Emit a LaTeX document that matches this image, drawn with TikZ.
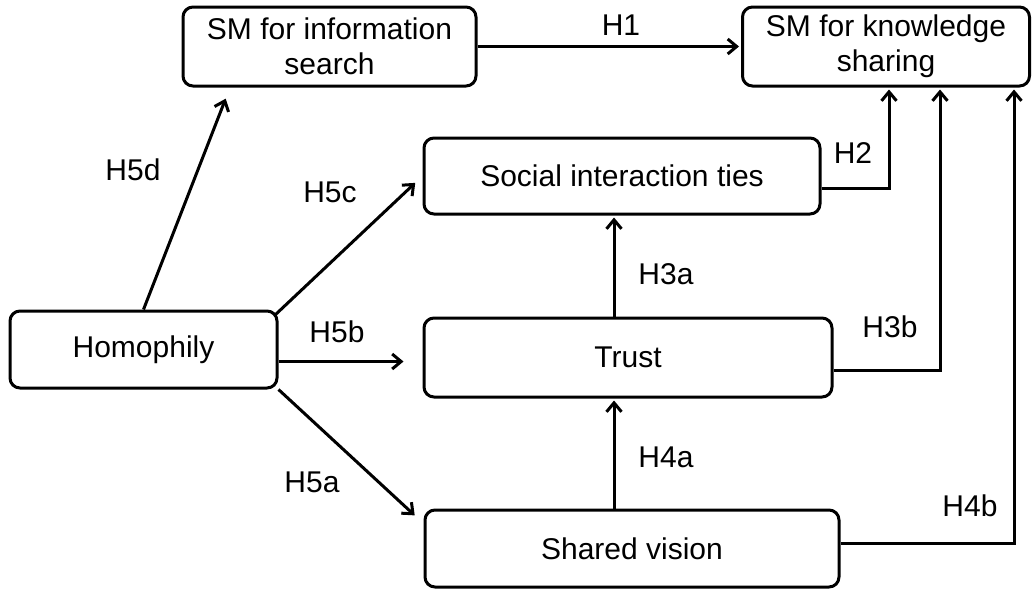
\documentclass[tikz,border=0pt]{standalone}
\usepackage{fontspec}
\setmainfont{Liberation Sans}
\usetikzlibrary{arrows.meta}

\begin{document}
\begin{tikzpicture}[x=1pt, y=-1pt, line width=3pt, shorten >=2pt,
		node_style/.style={rectangle,rounded corners=10pt,draw=black,fill=white,align=center,inner sep=0pt,font=\fontsize{30}{35}\selectfont},
		label_style/.style={inner sep=0pt,font=\fontsize{30}{35}\selectfont},
		edge_style/.style={draw=black,-{Straight Barb[length=9pt,width=15pt]}}]

		\useasboundingbox (0,0) rectangle (1032,592);

		\node[node_style, minimum width=293pt, minimum height=79pt] (info) at (329.5,46.5) {SM for information\\search};
		\node[node_style, minimum width=287pt, minimum height=79pt] (know) at (886,46.5) {SM for knowledge\\sharing};
		\node[node_style, minimum width=396pt, minimum height=76pt] (social) at (622,176) {Social interaction ties};
		\node[node_style, minimum width=267pt, minimum height=77pt] (homo) at (143.5,349.5) {Homophily};
		\node[node_style, minimum width=408pt, minimum height=79pt] (trust) at (628,357.5) {Trust};
		\node[node_style, minimum width=414pt, minimum height=77pt] (shared) at (632,548.5) {Shared vision};

		\node[label_style] (l1) at (621,25) {H1};
		\node[label_style] (l2) at (853,153) {H2};
		\node[label_style] (l3a) at (666,274) {H3a};
		\node[label_style] (l3b) at (890,327) {H3b};
		\node[label_style] (l4a) at (666,457) {H4a};
		\node[label_style] (l4b) at (970,506) {H4b};
		\node[label_style] (l5a) at (312,482) {H5a};
		\node[label_style] (l5b) at (337,332) {H5b};
		\node[label_style] (l5c) at (330,192) {H5c};
		\node[label_style] (l5d) at (133,170) {H5d};

		\coordinate (h5b) at ([yshift=-12pt]homo.east);

		\draw[edge_style]  (info) -- (know);
		\draw[edge_style]  ([yshift=-12pt]social.east) -| ([xshift=3pt]know.south);
		\draw[edge_style]  ([yshift=-12.5pt]trust.east) -| ([xshift=54pt]know.south);
		\draw[edge_style]  ([yshift=5.5pt]shared.east) -| ([xshift=128pt]know.south);
		\draw[edge_style]  ([xshift=-14pt]trust.north) -- ([xshift=-8pt]social.south);
		\draw[edge_style]  ([xshift=-18pt]shared.north) -- ([xshift=-14pt]trust.south);
		\draw[edge_style, shorten >=12pt]  (homo.north) -- ([xshift=-99.5pt]info.south);
		\draw[edge_style, shorten >=10pt]  ([shift={(-4pt,-6pt)}]homo.north east) -- (social.west);
		\draw[edge_style, shorten >=19pt]  (h5b) -- (h5b -| trust.west);
		\draw[edge_style, shorten >=12pt]  (homo.south east) -- ([yshift=-15pt]shared.north west);

\end{tikzpicture}
\end{document}
